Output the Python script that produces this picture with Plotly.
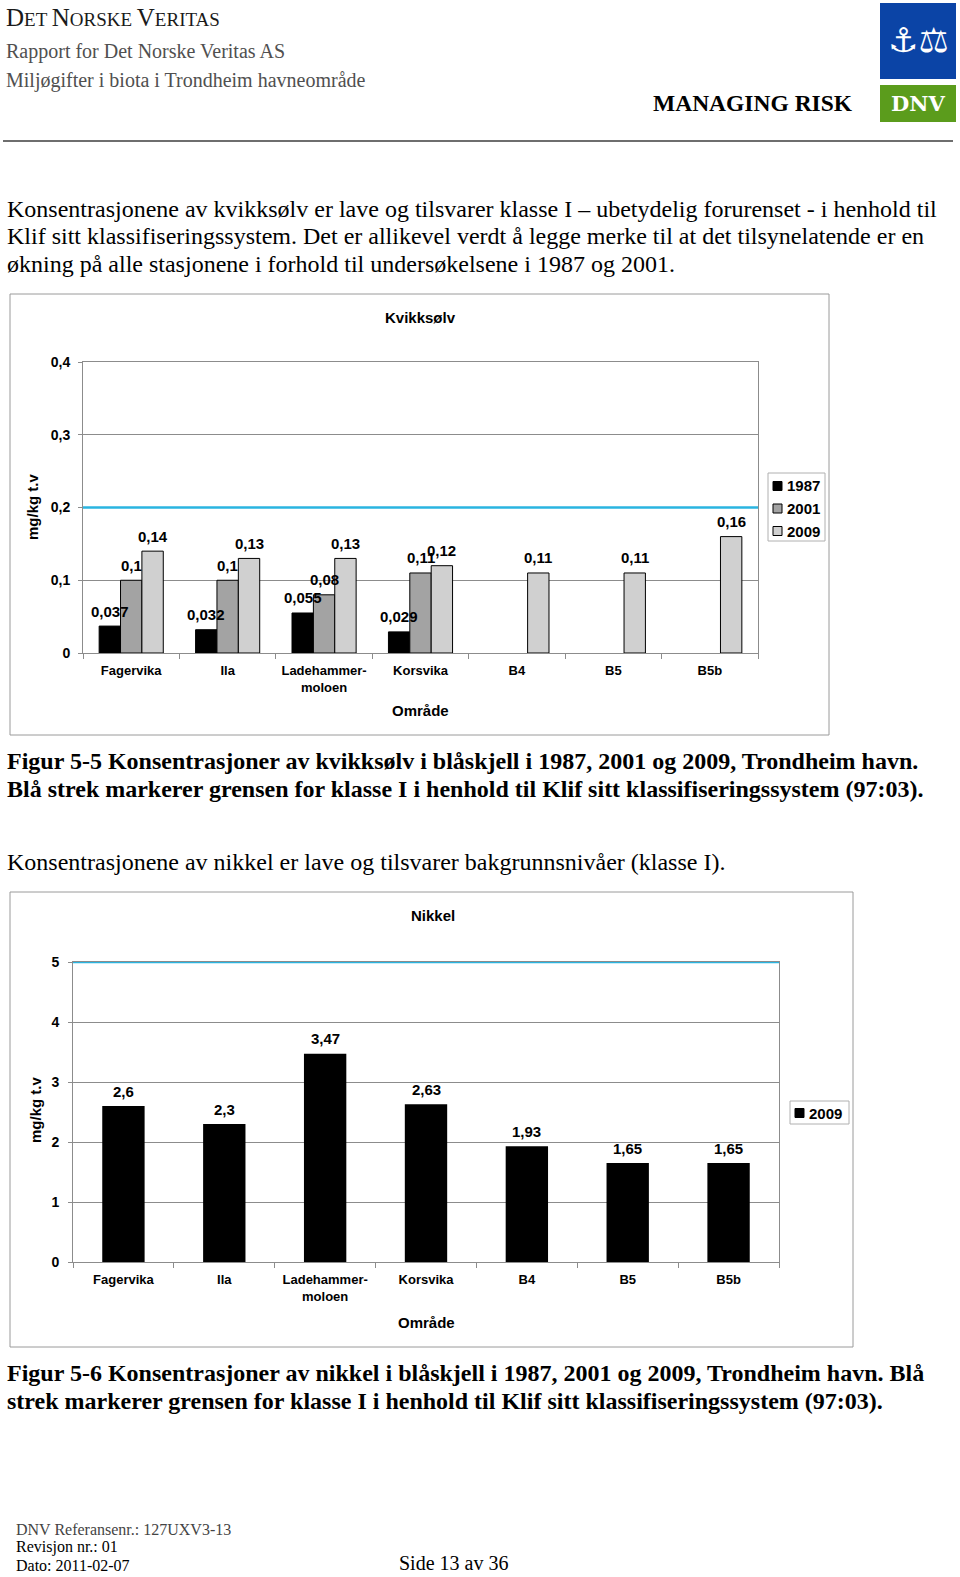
import plotly.graph_objects as go

W, H = 960, 1577

# ---------------- data ----------------
categories = ["Fagervika", "Ila", "Ladehammer-<br>moloen", "Korsvika", "B4", "B5", "B5b"]
hg_years = ["1987", "2001", "2009"]
hg_1987 = [0.037, 0.032, 0.055, 0.029, None, None, None]
hg_2001 = [0.1, 0.1, 0.08, 0.11, None, None, None]
hg_2009 = [0.14, 0.13, 0.13, 0.12, 0.11, 0.11, 0.16]
hg_colors = ["#000000", "#a3a3a3", "#d0d0d0"]
hg_class1_limit = 0.2
hg_yticks = [0, 0.1, 0.2, 0.3, 0.4]

ni_years = ["2009"]
ni_2009 = [2.6, 2.3, 3.47, 2.63, 1.93, 1.65, 1.65]
ni_colors = ["#000000"]
ni_class1_limit = 5
ni_yticks = [0, 1, 2, 3, 4, 5]

SANS = "Liberation Sans, Arial, sans-serif"
SERIF = "Liberation Serif, Times New Roman, serif"
GRID = "#8c8c8c"
LIMIT_BLUE = "#2ab4e0"

HG_BARGAP = 0.335
NI_BARWIDTH = 0.42


def px(x):
    return x / W


def py(y):
    return 1 - y / H


def fmt(v):
    if v is None:
        return ""
    return ("%g" % v).replace(".", ",")


fig = go.Figure()
annotations = []

# ---------------- chart 1: Kvikksølv ----------------
hg_series = [hg_1987, hg_2001, hg_2009]
hg_plot_w = 758 - 83
hg_bar_px = hg_plot_w / len(categories) * (1 - HG_BARGAP) / len(hg_series)
for k, (name, vals, col) in enumerate(zip(hg_years, hg_series, hg_colors)):
    fig.add_trace(go.Bar(
        x=categories, y=vals, name=name, xaxis="x", yaxis="y",
        marker=dict(color=col, line=dict(color="#000000", width=1)),
        showlegend=False, hoverinfo="skip",
    ))
    for c, v in zip(categories, vals):
        if v is None:
            continue
        annotations.append(dict(
            x=c, y=v, xref="x", yref="y", text=fmt(v), showarrow=False,
            xanchor="center", yanchor="middle", yshift=15,
            xshift=(k - (len(hg_series) - 1) / 2) * hg_bar_px,
            font=dict(family=SANS, size=15, color="#000", weight="bold")))

# ---------------- chart 2: Nikkel ----------------
fig.add_trace(go.Bar(
    x=categories, y=ni_2009, name=ni_years[0], xaxis="x2", yaxis="y2",
    width=NI_BARWIDTH,
    marker=dict(color=ni_colors[0], line=dict(color="#000000", width=0)),
    showlegend=False, hoverinfo="skip",
))
for c, v in zip(categories, ni_2009):
    annotations.append(dict(
        x=c, y=v, xref="x2", yref="y2", text=fmt(v), showarrow=False,
        xanchor="center", yanchor="middle", yshift=15,
        font=dict(family=SANS, size=15, color="#000", weight="bold")))

xaxis_common = dict(
    type="category", tickson="boundaries", ticks="outside", ticklen=5,
    tickcolor=GRID, showline=True, linecolor=GRID, linewidth=1, mirror=True,
    showgrid=False, ticklabelstandoff=5,
    tickfont=dict(family=SANS, size=13, color="#000", weight="bold"),
    fixedrange=True,
)
yaxis_common = dict(
    showgrid=True, gridcolor=GRID, gridwidth=1, ticks="outside", ticklen=4,
    tickcolor=GRID, showline=True, linecolor=GRID, linewidth=1, mirror=True,
    zeroline=False, tickfont=dict(family=SANS, size=14, color="#000", weight="bold"),
    fixedrange=True,
)

fig.update_layout(
    width=W, height=H, margin=dict(l=0, r=0, t=0, b=0, pad=0, autoexpand=False),
    paper_bgcolor="white", plot_bgcolor="white",
    separators=", ", barmode="group", bargap=HG_BARGAP, bargroupgap=0,
    showlegend=False,
    xaxis=dict(domain=[px(83), px(758)], anchor="y", **xaxis_common),
    yaxis=dict(domain=[py(653), py(362)], anchor="x", range=[0, 0.4], ticklabelstandoff=5,
               tickvals=hg_yticks, ticktext=[fmt(v) for v in hg_yticks], **yaxis_common),
    xaxis2=dict(domain=[px(73), px(779)], anchor="y2", **xaxis_common),
    yaxis2=dict(domain=[py(1262), py(962)], anchor="x2", range=[0, 5], ticklabelstandoff=6,
                tickvals=ni_yticks, ticktext=[fmt(v) for v in ni_yticks], **yaxis_common),
)

shapes = []
# chart frames
shapes.append(dict(type="rect", xref="paper", yref="paper", x0=px(10), x1=px(829),
                   y0=py(735), y1=py(294), line=dict(color="#9a9a9a", width=1), layer="below"))
shapes.append(dict(type="rect", xref="paper", yref="paper", x0=px(10), x1=px(853),
                   y0=py(1347), y1=py(892), line=dict(color="#9a9a9a", width=1), layer="below"))
# class I limit lines
shapes.append(dict(type="line", xref="x domain", yref="y", x0=0, x1=1,
                   y0=hg_class1_limit, y1=hg_class1_limit, line=dict(color=LIMIT_BLUE, width=2.5)))
shapes.append(dict(type="line", xref="x2 domain", yref="y2", x0=0, x1=1,
                   y0=ni_class1_limit, y1=ni_class1_limit, line=dict(color=LIMIT_BLUE, width=2.5)))
# header rule
shapes.append(dict(type="line", xref="paper", yref="paper", x0=px(3), x1=px(953),
                   y0=py(141), y1=py(141), line=dict(color="#6e6e6e", width=2)))
# logo boxes
shapes.append(dict(type="rect", xref="paper", yref="paper", x0=px(880), x1=px(956),
                   y0=py(79), y1=py(3), fillcolor="#0b44a6", line=dict(width=0)))
shapes.append(dict(type="rect", xref="paper", yref="paper", x0=px(880), x1=px(956),
                   y0=py(122), y1=py(85), fillcolor="#5b9c1c", line=dict(width=0)))


def txt(text, x, y, size, family=SERIF, color="#000", xanchor="left", yanchor="middle",
        weight="normal", angle=0):
    annotations.append(dict(text=text, x=px(x), y=py(y), xref="paper", yref="paper",
                            xanchor=xanchor, yanchor=yanchor, showarrow=False,
                            textangle=angle,
                            font=dict(family=family, size=size, color=color, weight=weight)))


# legends (built from series names / colours)
def legend_box(names, colors, x0, x1, y0, y1, first_y, step, sq_x):
    shapes.append(dict(type="rect", xref="paper", yref="paper", x0=px(x0), x1=px(x1),
                       y0=py(y1), y1=py(y0), line=dict(color="#b0b0b0", width=1),
                       fillcolor="white"))
    for i, (n, c) in enumerate(zip(names, colors)):
        yc = first_y + i * step
        shapes.append(dict(type="rect", xref="paper", yref="paper", x0=px(sq_x), x1=px(sq_x + 9),
                           y0=py(yc + 4.5), y1=py(yc - 4.5), fillcolor=c,
                           line=dict(color="#000", width=1)))
        txt(n, sq_x + 12, yc, 15, family=SANS, weight="bold")


legend_box(hg_years, hg_colors, 768, 825, 473, 541, 486, 22.5, 773)
legend_box(ni_years, ni_colors, 790, 849, 1101, 1124, 1113, 0, 795)

# chart texts
txt("Kvikksølv", 420, 317, 15, family=SANS, xanchor="center", weight="bold")
txt("mg/kg t.v", 33, 507, 15, family=SANS, xanchor="center", weight="bold", angle=-90)
txt("Område", 420, 711, 15, family=SANS, xanchor="center", weight="bold")
txt("Nikkel", 433, 916, 15, family=SANS, xanchor="center", weight="bold")
txt("mg/kg t.v", 35, 1110, 15, family=SANS, xanchor="center", weight="bold", angle=-90)
txt("Område", 426, 1322, 15, family=SANS, xanchor="center", weight="bold")

# header
txt('D<span style="font-size:19px">ET </span>N<span style="font-size:19px">ORSKE </span>'
    'V<span style="font-size:19px">ERITAS</span>', 4, 18, 25, color="#1a1a1a")
txt("Rapport for Det Norske Veritas AS", 4, 52, 20, color="#505050")
txt("Miljøgifter i biota i Trondheim havneområde", 4, 81, 20, color="#505050")
txt("MANAGING RISK", 855, 103, 23.5, xanchor="right", weight="bold")
txt("⚓⚖", 918, 40, 34, family="DejaVu Sans", color="white", xanchor="center")
txt("DNV", 918, 104, 21, family="DejaVu Serif", color="white", xanchor="center", weight="bold")

# body text
body1 = [
    "Konsentrasjonene av kvikksølv er lave og tilsvarer klasse I – ubetydelig forurenset - i henhold til",
    "Klif sitt klassifiseringssystem. Det er allikevel verdt å legge merke til at det tilsynelatende er en",
    "økning på alle stasjonene i forhold til undersøkelsene i 1987 og 2001.",
]
for i, line in enumerate(body1):
    txt(line, 5, 209 + i * 27.5, 24)

cap1 = [
    "Figur 5-5 Konsentrasjoner av kvikksølv i blåskjell i 1987, 2001 og 2009, Trondheim havn.",
    "Blå strek markerer grensen for klasse I i henhold til Klif sitt klassifiseringssystem (97:03).",
]
for i, line in enumerate(cap1):
    txt(line, 5, 761 + i * 28, 24, weight="bold")

txt("Konsentrasjonene av nikkel er lave og tilsvarer bakgrunnsnivåer (klasse I).", 5, 862, 24)

cap2 = [
    "Figur 5-6 Konsentrasjoner av nikkel i blåskjell i 1987, 2001 og 2009, Trondheim havn. Blå",
    "strek markerer grensen for klasse I i henhold til Klif sitt klassifiseringssystem (97:03).",
]
for i, line in enumerate(cap2):
    txt(line, 5, 1373 + i * 28, 24, weight="bold")

# footer
txt("DNV Referansenr.: 127UXV3-13", 14, 1529, 16, color="#444")
txt("Revisjon nr.: 01", 14, 1547, 16)
txt("Dato: 2011-02-07", 14, 1565, 16)
txt("Side 13 av 36", 397, 1563, 20)

fig.update_layout(shapes=shapes, annotations=annotations)
fig.write_html(
    "out.html",
    config={"displayModeBar": False},
    post_script="document.body.style.margin='0px';document.body.style.overflow='hidden';",
)
